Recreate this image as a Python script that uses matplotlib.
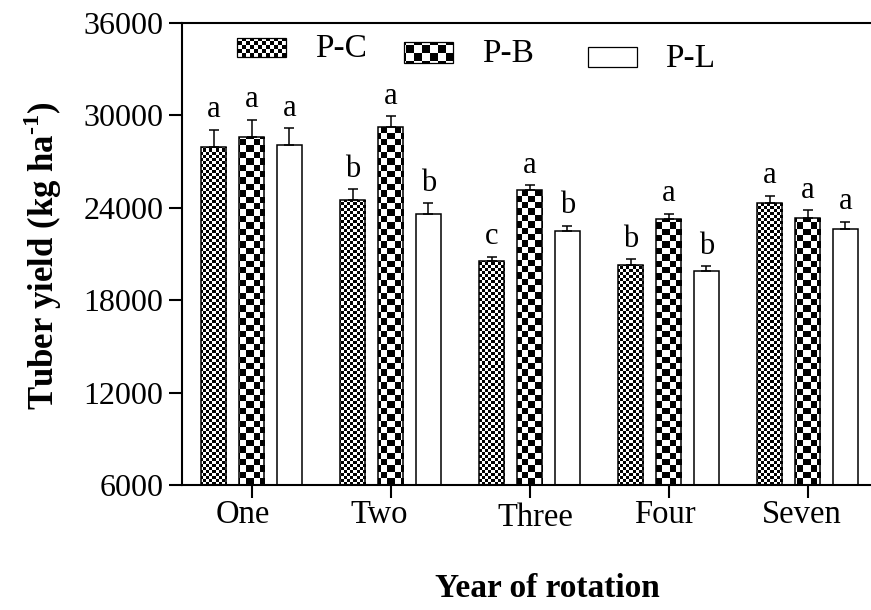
import numpy as np
import matplotlib
matplotlib.use("Agg")
from matplotlib import pyplot as plt
from matplotlib.patches import Rectangle
from matplotlib.transforms import ScaledTranslation

# data
years = ["One", "Two", "Three", "Four", "Seven"]
series = ["P-C", "P-B", "P-L"]

yield_pc = [27980, 24520, 20550, 20280, 24300]
yield_pb = [28590, 29220, 25170, 23260, 23330]
yield_pl = [28050, 23590, 22520, 19890, 22610]

err_pc = [1085, 695, 280, 365, 495]
err_pb = [1125, 715, 280, 365, 495]
err_pl = [1130, 690, 325, 325, 475]

letters_pc = ["a", "b", "c", "b", "a"]
letters_pb = ["a", "a", "a", "a", "a"]
letters_pl = ["a", "b", "b", "b", "a"]

yticks = [6000, 12000, 18000, 24000, 30000, 36000]

########################################################################################################################
plt.rcParams['font.family'] = ['Liberation Serif', 'DejaVu Serif']
plt.rcParams['mathtext.fontset'] = 'custom'
plt.rcParams['mathtext.rm'] = 'Liberation Serif:bold'
plt.rcParams['mathtext.bf'] = 'Liberation Serif:bold'

W, H = 871, 610
fig = plt.figure(figsize=(W / 100, H / 100), dpi=100)
ax_l, ax_b, ax_w, ax_h = 182, 125, 695, 462   # axes box in pixels
ax = fig.add_axes([ax_l / W, ax_b / H, ax_w / W, ax_h / H])
xlim = (-0.5, 4.5)
ylim = (6000, 36000)
ax.set_xlim(xlim)
ax.set_ylim(ylim)


def checker(cell, clip):
    # pixel-aligned checkerboard covering the axes, clipped to one patch
    yy, xx = np.mgrid[0:ax_h, 0:ax_w]
    img = (np.floor(xx / cell) + np.floor(yy / cell)) % 2
    im = ax.imshow(img, cmap='gray', vmin=0, vmax=1, extent=(*xlim, *ylim), origin='lower',
                   aspect='auto', interpolation='nearest', zorder=2)
    im.set_clip_path(clip)


width = 0.18
step = 0.273
groups = [(yield_pc, err_pc, letters_pc, 3.0),
          (yield_pb, err_pb, letters_pb, 6.4),
          (yield_pl, err_pl, letters_pl, None)]

for i, (vals, errs, letters, cell) in enumerate(groups):
    x = np.arange(len(years)) + (i - 1) * step
    bars = ax.bar(x, vals, width=width, color='white', edgecolor='none', zorder=1)
    if cell:
        for b in bars:
            checker(cell, b)
    ax.bar(x, vals, width=width, fill=False, edgecolor='black', linewidth=1.1, zorder=3)
    ax.errorbar(x, vals, yerr=[np.zeros(len(vals)), errs], fmt='none', ecolor='black',
                elinewidth=1.1, capsize=3.3, capthick=1.1, zorder=3)
    for xi, v, e, t in zip(x, vals, errs, letters):
        ax.annotate(t, (xi, v + e), xytext=(0, 9), textcoords='offset points',
                    ha='center', va='baseline', fontsize=22)

# hand placed legend (pixels: patch left, top, w, h, text left, text baseline)
legend_px = [(236.7, 38.3, 49, 18.4, 315, 56.7, 4.0),
             (404.0, 41.7, 49, 21.0, 482, 61.7, 8.0),
             (588.0, 46.7, 49, 20.0, 665, 66.7, None)]
for name, (lx, ty, w, h, tx, tb, cell) in zip(series, legend_px):
    xy = ((lx - ax_l) / ax_w, (485 - (ty + h)) / ax_h)
    bg = Rectangle(xy, w / ax_w, h / ax_h, transform=ax.transAxes, facecolor='white',
                   edgecolor='none', zorder=1)
    ax.add_patch(bg)
    if cell:
        checker(cell, bg)
    ax.add_patch(Rectangle(xy, w / ax_w, h / ax_h, transform=ax.transAxes, fill=False,
                           edgecolor='black', linewidth=0.9, zorder=3))
    ax.text((tx - ax_l) / ax_w, (485 - tb) / ax_h, name, transform=ax.transAxes,
            fontsize=24, ha='left', va='baseline')

ax.set_xlim(xlim)
ax.set_ylim(ylim)
ax.set_xticks(range(len(years)))
ax.set_xticklabels(years, fontsize=23.5)
ax.set_yticks(yticks)
ax.set_yticklabels([str(v) for v in yticks], fontsize=23)
ax.tick_params(direction='out', length=9.5, width=1.5)
ax.tick_params(axis='y', pad=4)
ax.tick_params(axis='x', pad=1)
# the category labels sit slightly off their ticks in the original (pixels)
label_nudge = [(-9, 0), (-11, 0), (6, -3), (-4, 0), (-6, 0)]
for lab, (dx, dy) in zip(ax.get_xticklabels(), label_nudge):
    lab.set_transform(lab.get_transform() + ScaledTranslation(dx / 100, dy / 100, fig.dpi_scale_trans))
ax.spines['right'].set_visible(False)
for s in ['left', 'bottom', 'top']:
    ax.spines[s].set_linewidth(1.5)

ax.set_xlabel("Year of rotation", fontsize=24, fontweight='bold')
ax.xaxis.set_label_coords(0.525, -0.19)
ax.set_ylabel(r"Tuber yield (kg ha$^{\text{-}\mathrm{1}}$)", fontsize=25, fontweight='bold')
ax.yaxis.set_label_coords(-0.17, 0.496)

fig.savefig("out.png", dpi=100)
plt.close()
